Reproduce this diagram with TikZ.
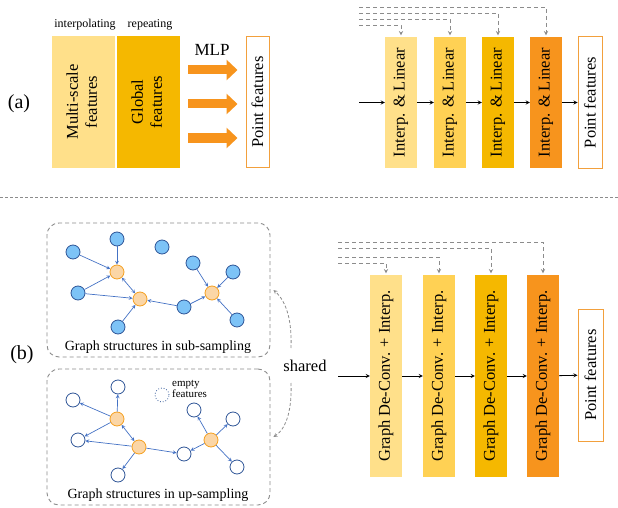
\documentclass[tikz,border=0pt]{standalone}
\usepackage{fontspec}
\setmainfont{Liberation Serif}
\usepackage{xcolor}
\usepackage{tikz}
\usetikzlibrary{arrows, arrows.meta}

\definecolor{lite}{HTML}{FFE08A}
\definecolor{mid}{HTML}{FFD154}
\definecolor{gold}{HTML}{F5B800}
\definecolor{deep}{HTML}{F7941D}
\definecolor{ptline}{HTML}{F2A03D}
\definecolor{fblue}{HTML}{7DC3F7}
\definecolor{dblue}{HTML}{2F5597}
\definecolor{eblue}{HTML}{4472C4}
\definecolor{fcent}{HTML}{FBD6A6}
\definecolor{ocent}{HTML}{F5A020}
\definecolor{dgray}{HTML}{8C8C8C}

\tikzstyle{link} = [line width=0.8pt,->,>=stealth]
\tikzstyle{skip} = [dgray,line width=0.9pt,dash pattern=on 4pt off 3pt,->,>=stealth,shorten >=1.5pt]
\tikzstyle{mlp} = [deep,line width=9pt,-{Triangle[width=20pt,length=11pt]},shorten <=8pt,shorten >=8pt]
\tikzstyle{bar} = [minimum width=32pt,minimum height=131pt,inner sep=0pt]
\tikzstyle{tallbar} = [minimum width=32pt,minimum height=202pt,inner sep=0pt]
\tikzstyle{pts} = [draw=ptline,fill=white,line width=1pt,inner sep=0pt]
\tikzstyle{feat} = [circle,draw=dblue,fill=fblue,line width=0.8pt,minimum size=14pt,inner sep=0pt]
\tikzstyle{hub} = [circle,draw=ocent,fill=fcent,line width=0.8pt,minimum size=14pt,inner sep=0pt]
\tikzstyle{blank} = [circle,draw=dblue,fill=white,line width=0.8pt,minimum size=14pt,inner sep=0pt]
\tikzstyle{gedge} = [eblue,line width=0.7pt,->,>=stealth]
\tikzstyle{gbox} = [draw=dgray,dash pattern=on 4pt off 3pt,line width=0.9pt,rounded corners=12pt,minimum width=223pt,inner sep=0pt]
\tikzstyle{share} = [dgray,line width=0.8pt,dash pattern=on 3pt off 2pt,->,>=stealth]
\def\vtxt#1{\rotatebox{90}{#1}}

\begin{document}
\begin{tikzpicture}[x=1pt,y=-1pt,font=\fontsize{16.5}{19}\selectfont]
\useasboundingbox (0,0) rectangle (618,508);

% (a) global + multi-scale features
\node (la) [font=\fontsize{20}{22}\selectfont] at (19,104) {(a)};
\node (ms) [bar,minimum width=63pt,minimum height=132pt,fill=lite] at (83.5,102) {\vtxt{\begin{tabular}{@{}c@{}}Multi-scale\\features\end{tabular}}};
\node (glob) [bar,minimum width=63pt,minimum height=132pt,fill=gold] at (148.5,102) {\vtxt{\begin{tabular}{@{}c@{}}Global\\features\end{tabular}}};
\node (interp) [font=\fontsize{12}{14}\selectfont] at (85,25) {interpolating};
\node (rep) [font=\fontsize{12}{14}\selectfont] at (150,25) {repeating};
\node (mlplab) [font=\fontsize{17}{19}\selectfont] at (212,50) {MLP};
\node (pfa) [bar,pts,minimum width=23pt] at (257.5,102) {\vtxt{Point features}};

\draw [mlp] ([shift={(0,-32)}]glob.east) -- ([shift={(0,-32)}]pfa.west);
\draw [mlp] ([shift={(0,2)}]glob.east) -- ([shift={(0,2)}]pfa.west);
\draw [mlp] ([shift={(0,36)}]glob.east) -- ([shift={(0,36)}]pfa.west);

% (a) decoder
\coordinate (ina) at (359,102.5);
\node (ia1) [bar,fill=lite] at (401,102.5) {\vtxt{Interp. \& Linear}};
\node (ia2) [bar,fill=mid] at (450,102.5) {\vtxt{Interp. \& Linear}};
\node (ia3) [bar,fill=gold] at (498,102.5) {\vtxt{Interp. \& Linear}};
\node (ia4) [bar,fill=deep] at (546,102.5) {\vtxt{Interp. \& Linear}};
\node (pfb) [bar,pts,minimum width=24pt] at (590,102.5) {\vtxt{Point features}};

\draw [link] (ina) -- (ia1);
\draw [link] (ia1) -- (ia2);
\draw [link] (ia2) -- (ia3);
\draw [link] (ia3) -- (ia4);
\draw [link] (ia4) -- (pfb);

\coordinate (sa1) at (359,7);
\coordinate (sa2) at (359,13);
\coordinate (sa3) at (359,19);
\coordinate (sa4) at (359,25);
\draw [skip] (sa1) -| (ia4.north);
\draw [skip] (sa2) -| (ia3.north);
\draw [skip] (sa3) -| (ia2.north);
\draw [skip] (sa4) -| (ia1.north);

\draw [dgray,line width=0.8pt,dash pattern=on 3pt off 2pt] (0,197) -- (618,197);

% (b) graph structures
\node (lb) [font=\fontsize{20}{22}\selectfont] at (22,355) {(b)};
\node (subbox) [gbox,minimum height=134pt] at (158.5,290) {};
\node (upbox) [gbox,minimum height=136pt] at (158.5,437) {};
\node (sublab) [font=\fontsize{14}{16}\selectfont] at (158,347) {Graph structures in sub-sampling};
\node (uplab) [font=\fontsize{14}{16}\selectfont] at (158,495) {Graph structures in up-sampling};

\node (s1) [feat] at (73,252) {};
\node (s2) [feat] at (117,239) {};
\node (s3) [feat] at (162,247) {};
\node (s4) [feat] at (78,293) {};
\node (s5) [feat] at (118,327) {};
\node (s6) [feat] at (184,307) {};
\node (s7) [feat] at (193,263) {};
\node (s8) [feat] at (233,272) {};
\node (s9) [feat] at (237,320) {};
\node (sc1) [hub] at (117,272) {};
\node (sc2) [hub] at (140,299) {};
\node (sc3) [hub] at (212,293) {};

\draw [gedge] (s1) -- (sc1);
\draw [gedge] (s2) -- (sc1);
\draw [gedge] (s4) -- (sc1);
\draw [gedge] (s4) -- (sc2);
\draw [gedge,<->] (sc1) -- (sc2);
\draw [gedge] (s5) -- (sc2);
\draw [gedge] (s6) -- (sc2);
\draw [gedge] (s6) -- (sc3);
\draw [gedge] (s7) -- (sc3);
\draw [gedge] (s8) -- (sc3);
\draw [gedge] (s9) -- (sc3);

\node (u1) [blank] at (73,400) {};
\node (u2) [blank] at (118,387) {};
\node (u3) [blank] at (78,440) {};
\node (u4) [blank] at (118,475) {};
\node (u5) [blank] at (184,454) {};
\node (u6) [blank] at (194,410) {};
\node (u7) [blank] at (233,419) {};
\node (u8) [blank] at (237,467) {};
\node (uc1) [hub] at (117,419) {};
\node (uc2) [hub] at (139,447) {};
\node (uc3) [hub] at (211,440) {};

\draw [gedge] (uc1) -- (u1);
\draw [gedge] (uc1) -- (u2);
\draw [gedge] (uc1) -- (u3);
\draw [gedge,<->] (uc1) -- (uc2);
\draw [gedge] (uc2) -- (u3);
\draw [gedge] (uc2) -- (u4);
\draw [gedge] (uc2) -- (u5);
\draw [gedge] (uc3) -- (u5);
\draw [gedge] (uc3) -- (u6);
\draw [gedge] (uc3) -- (u7);
\draw [gedge] (uc3) -- (u8);

\node (empty) [blank,dotted] at (162,395) {};
\node (emptylab) [anchor=west,align=left,inner sep=0pt,font=\fontsize{11}{11.5}\selectfont] at (172,389) {empty\\features};

\node (shared) at (305,366) {shared};
\coordinate (sh1) at (291,348);
\coordinate (sh2) at (291,383);
\draw [share] (sh1) .. controls (292,322) and (287,302) .. ([xshift=3pt]subbox.east);
\draw [share] (sh2) .. controls (292,408) and (287,428) .. ([xshift=3pt]upbox.east);

% (b) decoder
\coordinate (inb) at (338,376);
\node (ib1) [tallbar,fill=lite] at (386,376) {\vtxt{Graph De-Conv. + Interp.}};
\node (ib2) [tallbar,fill=mid] at (439,376) {\vtxt{Graph De-Conv. + Interp.}};
\node (ib3) [tallbar,fill=gold] at (491,376) {\vtxt{Graph De-Conv. + Interp.}};
\node (ib4) [tallbar,fill=deep] at (543,376) {\vtxt{Graph De-Conv. + Interp.}};
\node (pfc) [bar,pts,minimum width=25pt,minimum height=132pt] at (590.5,375) {\vtxt{Point features}};

\draw [link] (inb) -- (ib1);
\draw [link] (ib1) -- (ib2);
\draw [link] (ib2) -- (ib3);
\draw [link] (ib3) -- (ib4);
\draw [link] (ib4) -- (pfc);

\coordinate (sb1) at (338,242);
\coordinate (sb2) at (338,248);
\coordinate (sb3) at (338,257);
\coordinate (sb4) at (338,263);
\draw [skip] (sb1) -| (ib4.north);
\draw [skip] (sb2) -| (ib3.north);
\draw [skip] (sb3) -| (ib2.north);
\draw [skip] (sb4) -| (ib1.north);
\end{tikzpicture}
\end{document}
